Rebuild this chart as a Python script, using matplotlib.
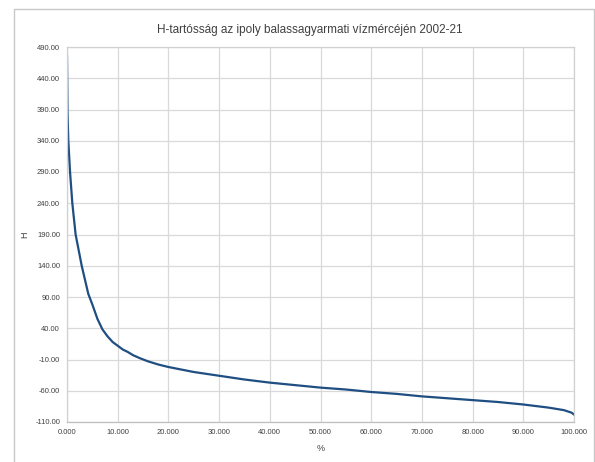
import matplotlib.pyplot as plt
from matplotlib.patches import Rectangle
from matplotlib.ticker import FixedLocator, FormatStrFormatter

plt.rcParams["font.family"] = ["Liberation Sans", "DejaVu Sans"]

# tartóssági görbe: időarány (%) és vízállás (H)
pct = [0, 0.1, 0.26, 0.6, 1.05, 1.7, 2.9, 4.2, 5.0, 6.0, 7.0, 8.0, 9.0, 10.0,
       11.0, 12.0, 13.0, 14.4, 16.0, 18.0, 20.0, 25.0, 30.0, 35.0, 40.0, 45.0,
       50.0, 55.0, 60.0, 65.0, 70.0, 75.0, 80.0, 85.0, 90.0, 95.0, 98.0, 99.5, 100.0]
h = [475, 385, 340, 290, 240, 190, 140, 95, 78, 55, 38, 27, 18, 12,
     6, 2, -3, -8, -13, -18, -22, -30, -36, -42, -47, -51,
     -55, -58, -62, -65, -69, -72, -75, -78, -82, -87, -91, -95, -98]

y_ticks = list(range(-110, 491, 50))
x_ticks = list(range(0, 101, 10))

title = "H-tartósság az ipoly balassagyarmati vízmércéjén 2002-21"

fig = plt.figure(figsize=(5.95, 4.62), dpi=100)
fig.patch.set_facecolor("white")

# keret a diagram körül
fig.patches.append(Rectangle((14 / 595, -0.05), (594 - 14) / 595, 1.05 - 9 / 462,
                             transform=fig.transFigure, fill=False,
                             edgecolor="#c8c8c8", linewidth=1.0))

ax = fig.add_axes([67 / 595, 40 / 462, (574 - 67) / 595, (422 - 47) / 462])
ax.plot(pct, h, color="#1f4e82", linewidth=1.6)

ax.set_xlim(0, 100)
ax.set_ylim(-110, 490)
ax.xaxis.set_major_locator(FixedLocator(x_ticks))
ax.yaxis.set_major_locator(FixedLocator(y_ticks))
ax.xaxis.set_major_formatter(FormatStrFormatter("%.3f"))
ax.yaxis.set_major_formatter(FormatStrFormatter("%.2f"))
ax.grid(True, color="#d9d9d9", linewidth=0.9)
ax.set_axisbelow(True)
ax.tick_params(length=0, labelsize=5.5, colors="#404040", pad=5)
for s in ax.spines.values():
    s.set_color("#d0d0d0")
    s.set_linewidth(0.9)
ax.spines["bottom"].set_color("#bfbfbf")

ax.set_xlabel("%", fontsize=6.5, color="#404040", labelpad=6)
ax.set_ylabel("H", fontsize=6.5, color="#404040", labelpad=4)

fig.text(310 / 595, 1 - 30 / 462, title, ha="center", va="center",
         fontsize=8.5, color="#404040")

fig.savefig("out.png", dpi=100, facecolor="white")
